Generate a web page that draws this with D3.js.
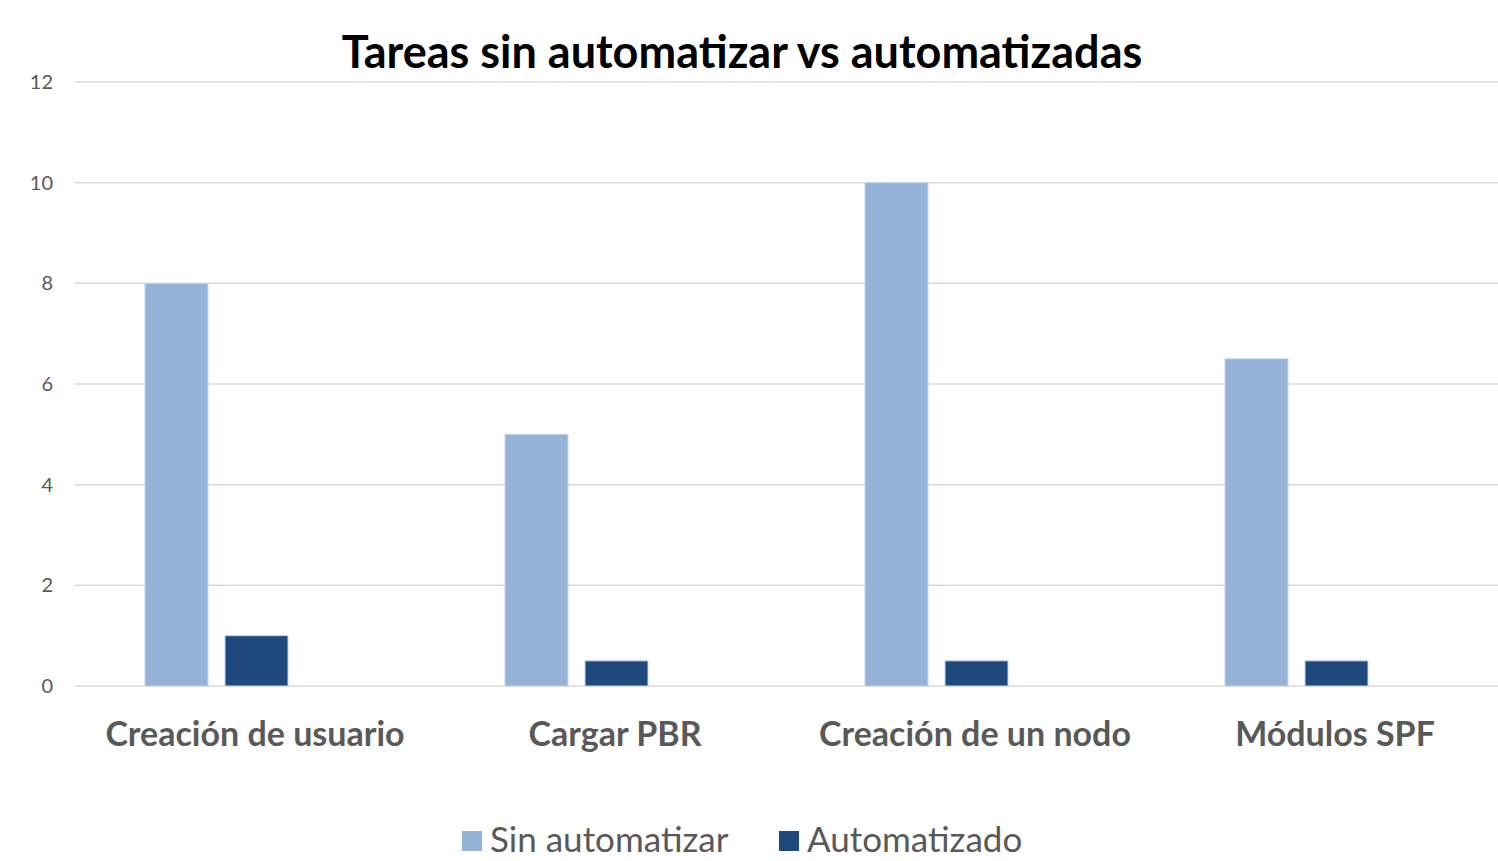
<!DOCTYPE html>
<html>
<head>
<meta charset="utf-8">
<script src="https://cdn.jsdelivr.net/npm/d3@7"></script>
<style>
  body { margin: 0; background: #fff; }
  svg { display: block; font-family: Lato, "Open Sans", sans-serif; }
</style>
</head>
<body>
<svg id="chart" width="1498" height="861"></svg>
<script>
// Data
const categories = ["Creación de usuario", "Cargar PBR", "Creación de un nodo", "Módulos SPF"];
const seriesNames = ["Sin automatizar", "Automatizado"];
const sinAutomatizar = [8, 5, 10, 6.5];
const automatizado = [1, 0.5, 0.5, 0.5];
const yTicks = [0, 2, 4, 6, 8, 10, 12];
const colors = ["#95B3D7", "#1F497D"];

const svg = d3.select("#chart");
const margin = { top: 82, left: 75, bottom: 175 };
// the plot area runs a little past the right edge of the picture
const plotWidth = 1440;
const height = 861 - margin.top - margin.bottom;

const g = svg.append("g").attr("transform", `translate(${margin.left},${margin.top})`);

// Scales
const x = d3.scaleBand().domain(categories).range([0, plotWidth]).padding(0);
// three slots per category, the third one stays empty (as in the original)
const bw = x.bandwidth();
const xInner = d3.scaleBand().domain([0, 1, 2])
  .range([bw * 0.1944, bw * 0.8139])
  .paddingInner(0.2125).paddingOuter(0);
const y = d3.scaleLinear().domain([0, 12]).range([height, 0]);

// Gridlines
g.append("g")
  .selectAll("line")
  .data(yTicks)
  .join("line")
  .attr("x1", 0)
  .attr("x2", plotWidth)
  .attr("y1", d => y(d))
  .attr("y2", d => y(d))
  .attr("stroke", "#d9d9d9")
  .attr("stroke-width", 1.5);

// Y axis labels
const yAxis = g.append("g")
  .call(d3.axisLeft(y).tickValues(yTicks).tickSize(0).tickPadding(22));
yAxis.select(".domain").remove();
yAxis.selectAll("text")
  .attr("font-size", 20)
  .attr("fill", "#595959")
  .attr("font-family", "Lato, sans-serif");

// Bars
const rows = categories.map((c, i) => ({ cat: c, values: [sinAutomatizar[i], automatizado[i]] }));

const groups = g.selectAll(".cat")
  .data(rows)
  .join("g")
  .attr("class", "cat")
  .attr("transform", d => `translate(${x(d.cat)},0)`);

groups.selectAll("rect")
  .data(d => d.values.map((v, k) => ({ k, v })))
  .join("rect")
  .attr("x", d => xInner(d.k))
  .attr("width", xInner.bandwidth())
  .attr("y", d => y(d.v))
  .attr("height", d => y(0) - y(d.v))
  .attr("fill", d => colors[d.k])
  .attr("stroke", "#c6d6ea")
  .attr("stroke-width", 1);

// Category labels
const xAxis = g.append("g")
  .attr("transform", `translate(0,${height})`)
  .call(d3.axisBottom(x).tickSize(0).tickPadding(36));
xAxis.select(".domain").remove();
xAxis.selectAll("text")
  .attr("font-size", 34)
  .attr("font-weight", "bold")
  .attr("fill", "#595959")
  .attr("font-family", "Lato, sans-serif");

// Title
svg.append("text")
  .attr("x", 742)
  .attr("y", 68)
  .attr("text-anchor", "middle")
  .attr("font-size", 45)
  .attr("font-weight", "bold")
  .attr("fill", "#000")
  .text("Tareas sin automatizar vs automatizadas");

// Legend
const legendItems = [
  { name: seriesNames[0], color: colors[0], x: 462 },
  { name: seriesNames[1], color: colors[1], x: 779 }
];
const legend = svg.append("g").selectAll("g")
  .data(legendItems)
  .join("g")
  .attr("transform", d => `translate(${d.x},831)`);
legend.append("rect")
  .attr("width", 20)
  .attr("height", 20)
  .attr("fill", d => d.color);
legend.append("text")
  .attr("x", 28)
  .attr("y", 21)
  .attr("font-size", 35)
  .attr("fill", "#595959")
  .text(d => d.name);
</script>
</body>
</html>
